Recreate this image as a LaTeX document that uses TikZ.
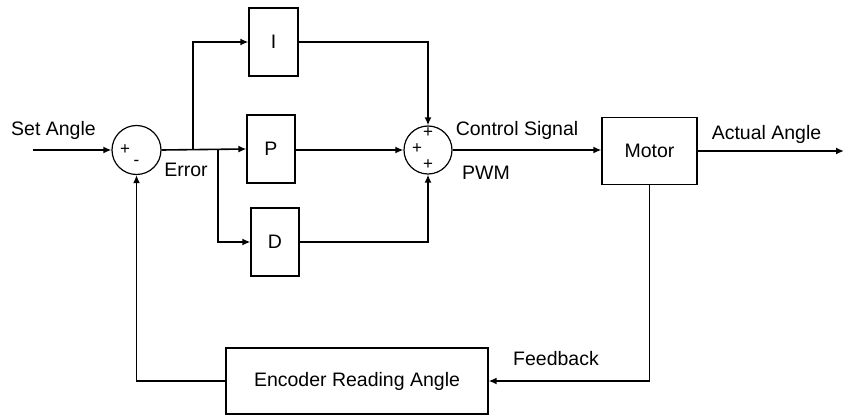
\documentclass[tikz,border=0pt]{standalone}
\usepackage{fontspec}
\setmainfont{Liberation Sans}
\usetikzlibrary{arrows.meta,calc}
\begin{document}
\begin{tikzpicture}[x=1pt,y=-1pt,
  every node/.style={font=\fontsize{19.5}{23}\selectfont, inner sep=0pt},
  blk/.style={draw, line width=1.2pt, rectangle},
  sumc/.style={draw, line width=1.2pt, circle, minimum size=#1},
  sgn/.style={font=\fontsize{17}{19}\selectfont},
  lbl/.style={},
  conn/.style={line width=1.6pt},
  arr/.style={conn, -{Latex[length=8pt,width=7pt]}}]
\useasboundingbox (0,0) rectangle (844,417);
% blocks
\node[sumc=49pt] (s1) at (136.5,150) {};
\node[sumc=48pt] (s2) at (428,150) {};
\node[blk, minimum width=49pt, minimum height=68pt] (I) at (273.5,42) {I};
\node[blk, minimum width=48pt, minimum height=68pt] (P) at (271,149) {P};
\node[blk, minimum width=48pt, minimum height=68pt] (D) at (275,242) {D};
\node[blk, minimum width=95pt, minimum height=67pt] (M) at (649.5,151) {Motor};
\node[blk, minimum width=262pt, minimum height=66pt] (E) at (357,381) {Encoder Reading Angle};
% coordinates
\coordinate (in) at (33,150);
\coordinate (out) at (844,151);
\coordinate (bi) at (193,150);
\coordinate (bd) at (218,150);
% signs
\node[sgn] (s1p) at (125,150) {+};
\node[sgn] (s1m) at (136.5,163) {-};
\node[sgn] (s2a) at (428,133) {+};
\node[sgn] (s2b) at (417,149) {+};
\node[sgn] (s2c) at (428,165) {+};
% labels
\node[lbl] (tset) at (53.5,130) {Set Angle};
\node[lbl] (terr) at (186,170) {Error};
\node[lbl] (tcs) at (517,130) {Control Signal};
\node[lbl] (tpwm) at (486,173) {PWM};
\node[lbl] (tact) at (766.5,134) {Actual Angle};
\node[lbl] (tfb) at (556,359) {Feedback};
% connectors
\draw[arr] (in) -- (s1.west);
\draw[arr] (s1.east) -- (P.west);
\draw[arr] (bi) |- (I.west);
\draw[arr] (bd) |- (D.west);
\draw[arr] (I.east) -| (s2.north);
\draw[arr] (P.east |- s2) -- (s2.west);
\draw[arr] (D.east) -| (s2.south);
\draw[arr] (s2.east) -- (M.west |- s2);
\draw[arr] (M.east) -- (out);
\draw[arr] (M.south) |- (E.east);
\draw[arr] (E.west) -| (s1.south);
\end{tikzpicture}
\end{document}
